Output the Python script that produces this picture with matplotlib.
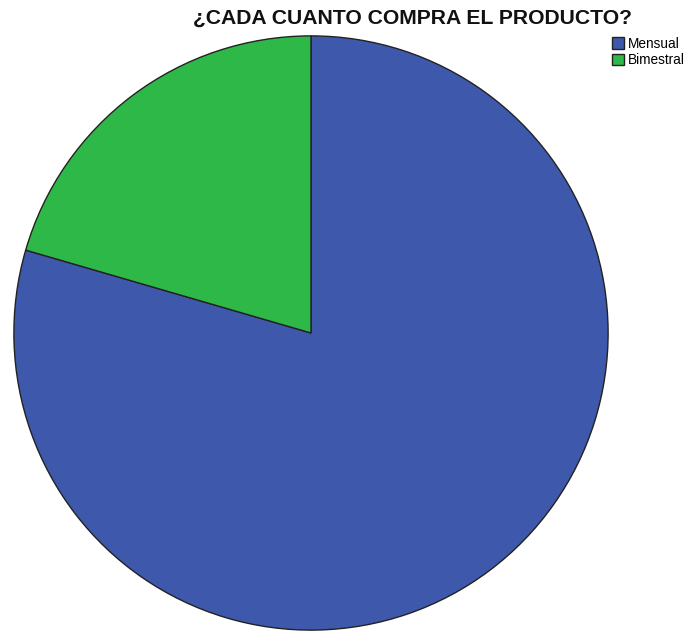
import matplotlib
matplotlib.use("Agg")
import matplotlib.pyplot as plt

labels = ["Mensual", "Bimestral"]
values = [79.5, 20.5]
colors = ["#3e58ac", "#2eb848"]

plt.rcParams["font.family"] = ["Liberation Sans", "DejaVu Sans"]

fig = plt.figure(figsize=(6.88, 6.31), dpi=100, facecolor="white")
ax = fig.add_axes([13 / 688, 0.0, 596 / 688, 596 / 631])
wedges, _ = ax.pie(values, colors=colors, startangle=90, counterclock=False,
                   wedgeprops=dict(edgecolor="#222222", linewidth=1.0))
ax.set_xlim(-1.003, 1.003)
ax.set_ylim(-1.003, 1.003)

fig.text(413 / 688, 1 - 18 / 631, "¿CADA CUANTO COMPRA EL PRODUCTO?",
         ha="center", va="center", fontsize=15.2, fontweight="bold", color="#111111")

fig.legend(wedges, labels, loc="upper left", bbox_to_anchor=(609 / 688, 1 - 34 / 631),
           frameon=False, fontsize=9.8, handlelength=0.9, handleheight=0.9,
           handletextpad=0.3, labelspacing=0.2, borderpad=0.2, borderaxespad=0)

fig.savefig("out.png", dpi=100, facecolor="white")
